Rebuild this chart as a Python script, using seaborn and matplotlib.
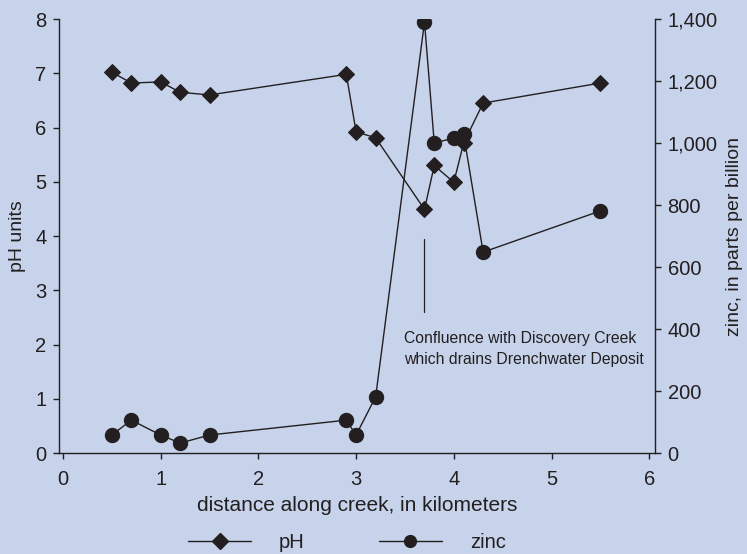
import matplotlib
matplotlib.use("Agg")
import matplotlib.pyplot as plt
import matplotlib.ticker as mticker
from matplotlib.lines import Line2D
import seaborn as sns
import pandas as pd

distance_km = [0.5, 0.7, 1.0, 1.2, 1.5, 2.9, 3.0, 3.2, 3.7, 3.8, 4.0, 4.1, 4.3, 5.5]
ph_values = [7.02, 6.82, 6.84, 6.65, 6.60, 6.98, 5.92, 5.81, 4.49, 5.30, 4.99, 5.71, 6.45, 6.82]
zinc_ppb = [58, 106, 58, 32, 58, 106, 58, 181, 1390, 1000, 1016, 1029, 648, 781]
x_ticks = [0, 1, 2, 3, 4, 5, 6]
ph_ticks = [0, 1, 2, 3, 4, 5, 6, 7, 8]
zinc_ticks = [0, 200, 400, 600, 800, 1000, 1200, 1400]
annotation_text = "Confluence with Discovery Creek\nwhich drains Drenchwater Deposit"
confluence_km = 3.7

BG = "#c6d3ea"
INK = "#231f20"

sns.set_theme(style="ticks")
plt.rcParams["font.family"] = ["Liberation Sans", "DejaVu Sans"]
plt.rcParams["text.color"] = INK
plt.rcParams["axes.labelcolor"] = INK
plt.rcParams["xtick.color"] = INK
plt.rcParams["ytick.color"] = INK

df = pd.DataFrame({"distance": distance_km, "pH": ph_values, "zinc": zinc_ppb})

fig = plt.figure(figsize=(7.47, 5.54), dpi=100, facecolor=BG)
ax = fig.add_axes([0.079, 0.1823, 0.798, 0.7834])
ax.set_facecolor(BG)
ax2 = ax.twinx()
ax2.set_facecolor("none")

sns.lineplot(data=df, x="distance", y="pH", ax=ax, color=INK, linewidth=1.0,
             marker="D", markersize=8.3, markeredgecolor=INK, markerfacecolor=INK,
             sort=False, legend=False)
sns.lineplot(data=df, x="distance", y="zinc", ax=ax2, color=INK, linewidth=1.0,
             marker="o", markersize=10.3, markeredgecolor=INK, markerfacecolor=INK,
             sort=False, legend=False)

ax.set_xlim(-0.04, 6.06)
ax.set_ylim(0, 8)
ax2.set_ylim(0, 1400)
ax.set_xticks(x_ticks)
ax.set_yticks(ph_ticks)
ax2.set_yticks(zinc_ticks)
ax2.yaxis.set_major_formatter(mticker.FuncFormatter(lambda v, p: f"{int(v):,}"))

for a in (ax, ax2):
    for s in a.spines.values():
        s.set_color(INK)
        s.set_linewidth(1.0)
    a.spines["top"].set_visible(False)
    a.tick_params(labelsize=14.5, width=1.0, length=4, pad=5, colors=INK)
ax.tick_params(axis="x", pad=8)
ax.spines["right"].set_visible(False)
ax2.spines["left"].set_visible(False)
ax2.spines["bottom"].set_visible(False)

ax.set_xlabel("distance along creek, in kilometers", fontsize=15, labelpad=5)
ax.set_ylabel("pH units", fontsize=14, labelpad=7)
ax2.set_ylabel("zinc, in parts per billion", fontsize=14, labelpad=6)

# annotation
ax.plot([confluence_km, confluence_km], [2.6, 3.94], color=INK, linewidth=0.9)
ax.text(3.49, 1.91, annotation_text, fontsize=11.3, ha="left", va="center",
        linespacing=1.5, color=INK)

handles = [
    Line2D([], [], color=INK, linewidth=1.0, marker="D", markersize=8.3, markerfacecolor=INK),
    Line2D([], [], color=INK, linewidth=1.0, marker="o", markersize=8.5, markerfacecolor=INK),
]
fig.legend(handles, ["pH", "zinc"], loc="center", bbox_to_anchor=(347 / 747, 1 - 543 / 554),
           ncol=2, frameon=False, fontsize=14.5, handlelength=3.1, handletextpad=1.4,
           columnspacing=3.7)

fig.savefig("out.png", dpi=100, facecolor=BG)
